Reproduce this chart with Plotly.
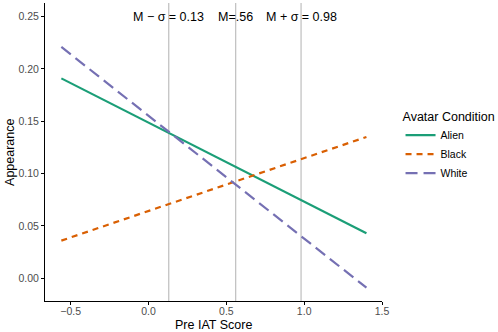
import plotly.graph_objects as go

# Data
pre_iat = [-0.56, 1.40]
alien = [0.191, 0.043]
black = [0.036, 0.135]
white = [0.221, -0.009]
conditions = ["Alien", "Black", "White"]
vline_x = [0.13, 0.56, 0.98]
vline_labels = ["M \u2212 \u03c3 = 0.13", "M=.56", "M + \u03c3 = 0.98"]
x_ticks = [-0.5, 0.0, 0.5, 1.0, 1.5]
x_ticklabels = ["\u22120.5", "0.0", "0.5", "1.0", "1.5"]
y_ticks = [0.00, 0.05, 0.10, 0.15, 0.20, 0.25]
y_ticklabels = ["0.00", "0.05", "0.10", "0.15", "0.20", "0.25"]

colors = {"Alien": "#1B9E77", "Black": "#D95F02", "White": "#7570B3"}
dashes = {"Alien": "solid", "Black": "6px,5px", "White": "12px,6px"}
series = {"Alien": alien, "Black": black, "White": white}

FONT = "Liberation Sans, Arial, sans-serif"
fig = go.Figure()

ymin, ymax = -0.0217, 0.263
for xv in vline_x:
    fig.add_shape(type="line", x0=xv, x1=xv, y0=ymin, y1=ymax, xref="x", yref="y",
                  line=dict(color="#BEBEBE", width=1.2), layer="below")

for c in conditions:
    fig.add_trace(go.Scatter(x=pre_iat, y=series[c], mode="lines", name=c,
                             line=dict(color=colors[c], width=2.2, dash=dashes[c])))

for xv, lab in zip(vline_x, vline_labels):
    fig.add_annotation(x=xv, y=0.25, text=lab, showarrow=False, xref="x", yref="y",
                       font=dict(family=FONT, size=12.5, color="black"))

# Axis titles
fig.add_annotation(x=0.5, y=-0.079, xref="paper", yref="paper", text="Pre IAT Score",
                   showarrow=False, xanchor="center", yanchor="middle", borderpad=0,
                   font=dict(family=FONT, size=12.5, color="black"))
fig.add_annotation(x=-0.104, y=0.5, xref="paper", yref="paper", text="Appearance",
                   showarrow=False, textangle=-90, xanchor="center", yanchor="middle",
                   font=dict(family=FONT, size=12.5, color="black"))

fig.update_layout(
    width=498, height=332,
    margin=dict(l=45, r=116, t=3, b=31, autoexpand=False),
    paper_bgcolor="white", plot_bgcolor="white",
    font=dict(family=FONT),
    legend=dict(
        title=dict(text="Avatar Condition", font=dict(size=12.5, color="black", family=FONT)),
        font=dict(size=10.5, color="black", family=FONT),
        x=1.055, y=0.66, xanchor="left", yanchor="top",
        itemwidth=30, tracegroupgap=2,
    ),
    xaxis=dict(
        range=[-0.665, 1.5], showgrid=False, zeroline=False, automargin=False,
        showline=True, linecolor="black", linewidth=1,
        ticks="outside", ticklen=3, tickcolor="black",
        tickvals=x_ticks, ticktext=x_ticklabels, ticklabelstandoff=-3,
        tickfont=dict(size=10.5, color="#4D4D4D", family=FONT),
    ),
    yaxis=dict(
        range=[ymin, ymax], showgrid=False, zeroline=False, automargin=False,
        showline=True, linecolor="black", linewidth=1,
        ticks="outside", ticklen=3, tickcolor="black",
        tickvals=y_ticks, ticktext=y_ticklabels,
        tickfont=dict(size=10.5, color="#4D4D4D", family=FONT),
    ),
)

fig.write_html("out.html", config={"displayModeBar": False},
               post_script="document.body.style.margin='0px';")
